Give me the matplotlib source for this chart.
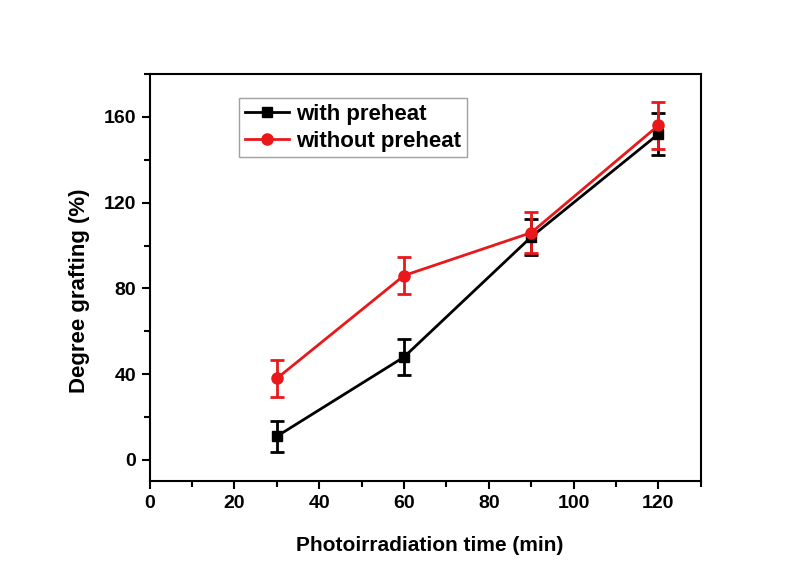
import numpy as np
import matplotlib.pyplot as plt
from matplotlib.ticker import MultipleLocator
from matplotlib.lines import Line2D

plt.rcParams['font.family'] = ['Liberation Sans', 'DejaVu Sans']
plt.rcParams['font.weight'] = 'bold'

# photoirradiation time (min)
time = [30, 60, 90, 120]

# degree of grafting (%) and error bars
with_preheat = [11, 48, 104, 152]
with_preheat_err = [7.3, 8.6, 8.5, 9.8]
without_preheat = [38, 86, 106, 156]
without_preheat_err = [8.5, 8.5, 9.5, 11]

black = 'black'
red = '#e8181b'

fig = plt.figure(figsize=(8, 5.65), dpi=100)
ax = fig.add_axes([0.187, 0.148, 0.689, 0.721])

ax.errorbar(time, with_preheat, yerr=with_preheat_err, color=black,
            marker='s', markersize=7, linewidth=2, elinewidth=2,
            capsize=5, capthick=2)
ax.errorbar(time, without_preheat, yerr=without_preheat_err, color=red,
            marker='o', markersize=8, linewidth=2, elinewidth=2,
            capsize=5, capthick=2)

ax.set_xlim(0, 130)
ax.xaxis.set_major_locator(MultipleLocator(20))
ax.xaxis.set_minor_locator(MultipleLocator(10))
ax.set_yticks([0, 40, 80, 120, 160])
ax.yaxis.set_minor_locator(MultipleLocator(20))
ax.set_ylim(-10, 180)

ax.tick_params(which='both', direction='out', width=1.5, labelsize=14)
ax.tick_params(which='major', length=6)
ax.tick_params(which='minor', length=4)
for s in ax.spines.values():
    s.set_linewidth(1.5)
for lab in ax.get_xticklabels() + ax.get_yticklabels():
    lab.set_fontweight('bold')

ax.set_xlabel('Photoirradiation time (min)', fontsize=15, fontweight='bold')
ax.set_ylabel('Degree grafting (%)', fontsize=16, fontweight='bold')
ax.xaxis.set_label_coords(0.508, -0.135)
ax.yaxis.set_label_coords(-0.108, 0.467)

handles = [
    Line2D([], [], color=black, marker='s', markersize=7, linewidth=2),
    Line2D([], [], color=red, marker='o', markersize=8, linewidth=2),
]
leg = ax.legend(handles, ['with preheat', 'without preheat'],
                loc='upper left', bbox_to_anchor=(0.163, 0.94), fontsize=16,
                frameon=True, fancybox=False, edgecolor='#888888',
                handlelength=2.0, handletextpad=0.3, borderpad=0.25,
                labelspacing=0.25, borderaxespad=0)
leg.get_frame().set_linewidth(1)
for t in leg.get_texts():
    t.set_fontweight('bold')

fig.savefig('out.png', dpi=100)
